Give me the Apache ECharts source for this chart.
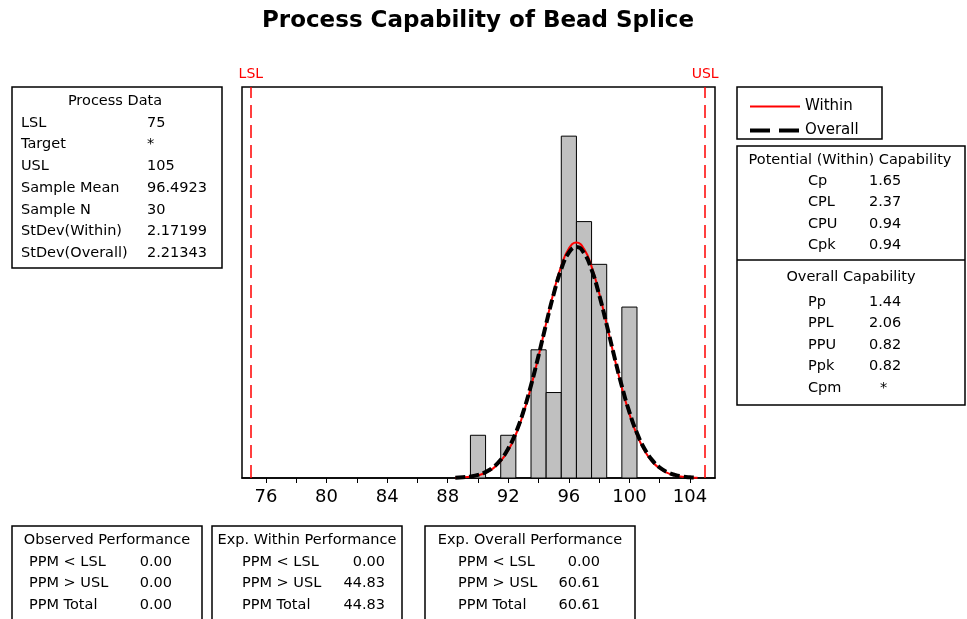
<!DOCTYPE html>
<html>
<head>
<meta charset="utf-8">
<title>Process Capability of Bead Splice</title>
<script src="https://cdn.jsdelivr.net/npm/echarts@6/dist/echarts.min.js"></script>
<style>
  html, body { margin: 0; padding: 0; background: #fff; }
  #chart { width: 967px; height: 619px; }
</style>
</head>
<body>
<div id="chart"></div>
<script>
// histogram bins (bin width 1) and counts
var binCenters = [90, 91, 92, 93, 94, 95, 96, 97, 98, 99, 100];
var binCounts  = [1, 0, 1, 0, 3, 2, 8, 6, 5, 0, 4];

// fitted curves (scaled to counts)
var curveX = [88.5, 89, 89.5, 90, 90.5, 91, 91.5, 92, 92.5, 93, 93.5, 94, 94.5, 95, 95.5, 96,
  96.5, 97, 97.5, 98, 98.5, 99, 99.5, 100, 100.5, 101, 101.5, 102, 102.5, 103, 103.5, 104, 104.5];
var withinFit = [0.006, 0.014, 0.031, 0.063, 0.123, 0.225, 0.393, 0.649, 1.018, 1.513, 2.133, 2.853,
  3.618, 4.352, 4.964, 5.371, 5.510, 5.362, 4.948, 4.331, 3.595, 2.830, 2.113, 1.496, 1.004, 0.640,
  0.386, 0.221, 0.120, 0.062, 0.030, 0.014, 0.006];
var overallFit = [0.008, 0.018, 0.037, 0.073, 0.138, 0.249, 0.425, 0.690, 1.063, 1.557, 2.168, 2.869,
  3.606, 4.308, 4.890, 5.275, 5.407, 5.267, 4.875, 4.288, 3.584, 2.846, 2.148, 1.540, 1.050, 0.680,
  0.418, 0.245, 0.136, 0.072, 0.036, 0.017, 0.008];

// spec limits
var specLimits = [{ name: 'LSL', value: 75 }, { name: 'USL', value: 105 }];

// x axis ticks
var xTickValues  = [76, 78, 80, 82, 84, 86, 88, 90, 92, 94, 96, 98, 100, 102, 104];
var xLabelValues = [76, 80, 84, 88, 92, 96, 100, 104];

// text tables
var processLabels = ['LSL', 'Target', 'USL', 'Sample Mean', 'Sample N', 'StDev(Within)', 'StDev(Overall)'];
var processValues = ['75', '*', '105', '96.4923', '30', '2.17199', '2.21343'];
var withinCapLabels = ['Cp', 'CPL', 'CPU', 'Cpk'];
var withinCapValues = ['1.65', '2.37', '0.94', '0.94'];
var overallCapLabels = ['Pp', 'PPL', 'PPU', 'Ppk', 'Cpm'];
var overallCapValues = ['1.44', '2.06', '0.82', '0.82', '*'];
var ppmLabels = ['PPM < LSL', 'PPM > USL', 'PPM Total'];
var observedPPM = ['0.00', '0.00', '0.00'];
var withinPPM   = ['0.00', '44.83', '44.83'];
var overallPPM  = ['0.00', '60.61', '60.61'];

var FONT = '"DejaVu Sans", sans-serif';

function txt(s, x, y, align, size, weight) {
  return {
    type: 'text', silent: true,
    style: {
      text: s, x: x, y: y,
      font: (weight || 'normal') + ' ' + (size || 14.5) + 'px ' + FONT,
      fill: '#000', textAlign: align || 'left', textVerticalAlign: 'middle'
    }
  };
}
function box(x, y, w, h) {
  return {
    type: 'rect', silent: true,
    shape: { x: x, y: y, width: w, height: h },
    style: { fill: 'none', stroke: '#000', lineWidth: 1.5 }
  };
}

var graphics = [];
graphics.push(txt('Process Capability of Bead Splice', 478, 21, 'center', 23, 'bold'));

// process data box
graphics.push(box(12, 87, 210, 181));
graphics.push(txt('Process Data', 115, 101, 'center'));
processLabels.forEach(function (l, i) {
  graphics.push(txt(l, 21, 123 + i * 21.7, 'left'));
  graphics.push(txt(processValues[i], 147, 123 + i * 21.7, 'left'));
});

// legend box
graphics.push(box(737, 87, 145, 52));

// capability box
graphics.push(box(737, 146, 228, 259));
graphics.push({ type: 'line', silent: true, shape: { x1: 737, y1: 260, x2: 965, y2: 260 },
  style: { stroke: '#000', lineWidth: 1.5 } });
graphics.push(txt('Potential (Within) Capability', 850, 160, 'center'));
withinCapLabels.forEach(function (l, i) {
  graphics.push(txt(l, 808, 181 + i * 21.5, 'left'));
  graphics.push(txt(withinCapValues[i], 869, 181 + i * 21.5, 'left'));
});
graphics.push(txt('Overall Capability', 851, 277, 'center'));
overallCapLabels.forEach(function (l, i) {
  var v = overallCapValues[i];
  graphics.push(txt(l, 808, 302 + i * 21.5, 'left'));
  graphics.push(txt(v, v === '*' ? 880 : 869, 302 + i * 21.5, 'left'));
});

// bottom performance boxes
var perfBoxes = [
  { title: 'Observed Performance', x: 12, w: 190, labelX: 29, valueX: 172, vals: observedPPM },
  { title: 'Exp. Within Performance', x: 212, w: 190, labelX: 242, valueX: 385, vals: withinPPM },
  { title: 'Exp. Overall Performance', x: 425, w: 210, labelX: 458, valueX: 600, vals: overallPPM }
];
perfBoxes.forEach(function (b) {
  graphics.push(box(b.x, 526, b.w, 110));
  graphics.push(txt(b.title, b.x + b.w / 2, 540, 'center'));
  ppmLabels.forEach(function (l, i) {
    graphics.push(txt(l, b.labelX, 562 + i * 21.5, 'left'));
    graphics.push(txt(b.vals[i], b.valueX, 562 + i * 21.5, 'right'));
  });
});

var chart = echarts.init(document.getElementById('chart'));
chart.setOption({
  animation: false,
  backgroundColor: '#fff',
  textStyle: { fontFamily: FONT },
  grid: {
    left: 242, right: 252, top: 87, bottom: 141,
    show: true, borderColor: '#000', borderWidth: 1.5
  },
  legend: {
    data: [
      { name: 'Within', lineStyle: { color: '#ff0000', width: 2, type: 'solid' } },
      { name: 'Overall', lineStyle: { color: '#000', width: 4, type: [20, 9] } }
    ],
    orient: 'vertical',
    left: 743, top: 94,
    itemWidth: 50, itemHeight: 14, itemGap: 9,
    itemStyle: { opacity: 0 },
    textStyle: { fontSize: 15, color: '#000', fontFamily: FONT }
  },
  xAxis: {
    type: 'value',
    min: 74.415, max: 105.651,
    axisLine: { lineStyle: { color: '#000', width: 1.5 } },
    axisTick: { customValues: xTickValues, length: 5, lineStyle: { color: '#000', width: 1 } },
    axisLabel: { customValues: xLabelValues, fontSize: 18, color: '#000', margin: 10, fontFamily: FONT },
    splitLine: { show: false }
  },
  yAxis: {
    type: 'value', min: 0, max: 9.15, show: false, splitLine: { show: false }
  },
  series: [
    {
      type: 'custom',
      name: 'Histogram',
      data: binCenters.map(function (c, i) { return [c, binCounts[i]]; }),
      encode: { x: 0, y: 1 },
      renderItem: function (params, api) {
        var c = api.value(0), n = api.value(1);
        if (!n) return null;
        var p0 = api.coord([c - 0.5, 0]);
        var p1 = api.coord([c + 0.5, n]);
        return {
          type: 'rect',
          shape: { x: p0[0], y: p1[1], width: p1[0] - p0[0], height: p0[1] - p1[1] },
          style: { fill: '#c0c0c0', stroke: '#000', lineWidth: 1 }
        };
      },
      markLine: {
        silent: true,
        symbol: 'none',
        lineStyle: { color: '#ff0000', type: [13, 7], width: 1.5 },
        label: { show: true, position: 'end', formatter: '{b}', color: '#ff0000', fontSize: 14, distance: 6, fontFamily: FONT },
        data: specLimits.map(function (s) { return { name: s.name, xAxis: s.value }; })
      }
    },
    {
      type: 'line',
      name: 'Within',
      data: curveX.map(function (x, i) { return [x, withinFit[i]]; }),
      smooth: true,
      symbol: 'none',
      lineStyle: { color: '#ff0000', width: 2 },
      itemStyle: { color: '#ff0000' }
    },
    {
      type: 'line',
      name: 'Overall',
      data: curveX.map(function (x, i) { return [x, overallFit[i]]; }),
      smooth: true,
      symbol: 'none',
      lineStyle: { color: '#000', width: 4, type: [10, 4] },
      itemStyle: { color: '#000' }
    }
  ],
  graphic: graphics
});
</script>
</body>
</html>
